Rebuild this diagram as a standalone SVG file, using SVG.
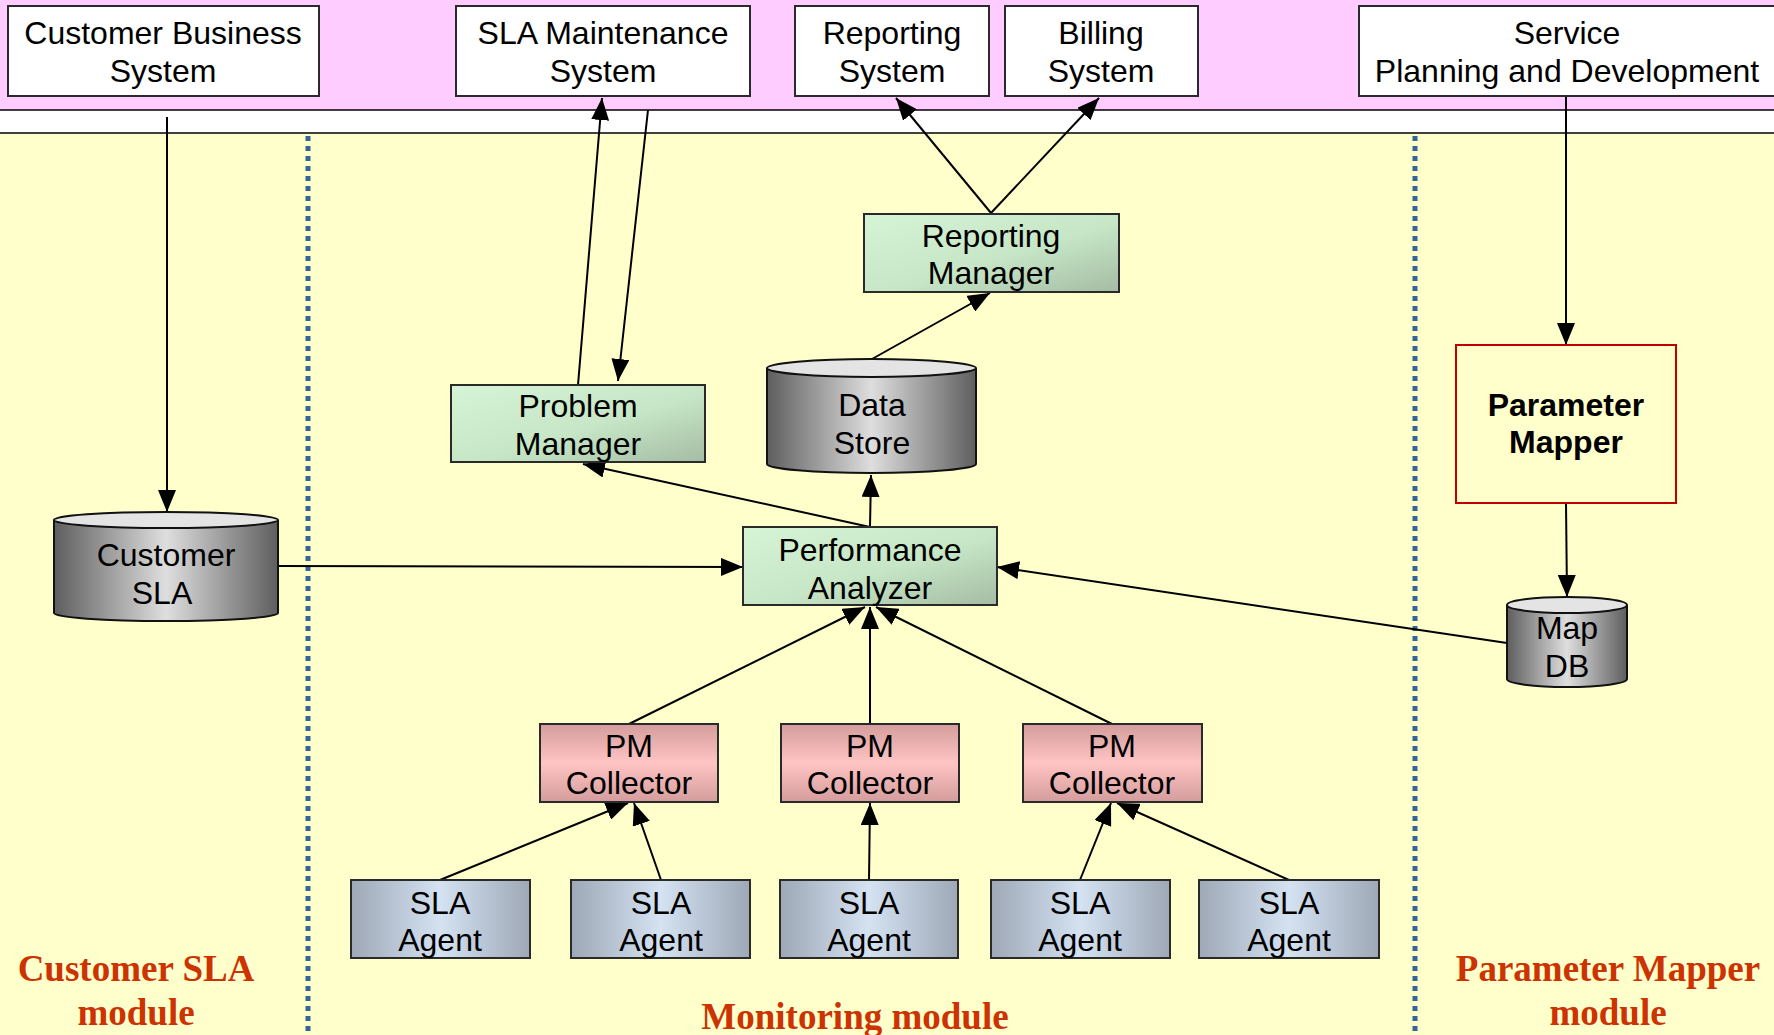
<svg xmlns="http://www.w3.org/2000/svg" width="1774" height="1035" viewBox="0 0 1774 1035">
  <defs>
    <linearGradient id="gGreen" x1="0" y1="0" x2="1" y2="1">
      <stop offset="0" stop-color="#d6f4d6"/>
      <stop offset="0.55" stop-color="#c6e6c6"/>
      <stop offset="1" stop-color="#a4bca4"/>
    </linearGradient>
    <linearGradient id="gPink" x1="0" y1="0" x2="0" y2="1">
      <stop offset="0" stop-color="#d49c9c"/>
      <stop offset="0.5" stop-color="#ffc4c4"/>
      <stop offset="1" stop-color="#d49c9c"/>
    </linearGradient>
    <linearGradient id="gBlue" x1="0" y1="0" x2="1" y2="0">
      <stop offset="0" stop-color="#9ea8b6"/>
      <stop offset="0.5" stop-color="#d4e2f2"/>
      <stop offset="1" stop-color="#9ea8b6"/>
    </linearGradient>
    <linearGradient id="gCyl" x1="0" y1="0" x2="1" y2="0">
      <stop offset="0" stop-color="#5e5e5e"/>
      <stop offset="0.5" stop-color="#dedede"/>
      <stop offset="1" stop-color="#5e5e5e"/>
    </linearGradient>
    <marker id="arrow" markerUnits="userSpaceOnUse" markerWidth="24" markerHeight="18" refX="22" refY="9" orient="auto">
      <path d="M0,0 L22,9 L0,18 z" fill="#000"/>
    </marker>
    <style>
      .box { stroke: #2a2a2a; stroke-width: 2; }
      .sys { fill: #ffffff; }
      .green { fill: url(#gGreen); }
      .pink { fill: url(#gPink); }
      .blue { fill: url(#gBlue); }
      .cyl { fill: url(#gCyl); stroke: #111; stroke-width: 2; }
      .cyltop { fill: #e4e4e4; stroke: #111; stroke-width: 2; }
      .t { font-family: "Liberation Sans", Arial, sans-serif; font-size: 32px; fill: #000; text-anchor: middle; }
      .tb { font-weight: bold; }
      .lbl { font-family: "Liberation Serif", "Times New Roman", serif; font-weight: bold; font-size: 37px; fill: #cc3300; text-anchor: middle; }
      .edge { stroke: #000; stroke-width: 2; fill: none; marker-end: url(#arrow); }
      .div { stroke: #336699; stroke-width: 5; stroke-dasharray: 5 5; }
    </style>
  </defs>

  <!-- background bands -->
  <rect x="0" y="0" width="1774" height="1035" fill="#ffffcc"/>
  <rect x="0" y="0" width="1774" height="110" fill="#ffccff"/>
  <rect x="0" y="110" width="1774" height="23" fill="#ffffff"/>
  <line x1="0" y1="110" x2="1774" y2="110" stroke="#000" stroke-width="1.5"/>
  <line x1="0" y1="133" x2="1774" y2="133" stroke="#000" stroke-width="1.5"/>

  <!-- module dividers -->
  <line class="div" x1="308" y1="136" x2="308" y2="1035"/>
  <line class="div" x1="1415" y1="136" x2="1415" y2="1035"/>

  <!-- module labels -->
  <g id="label-customer-sla">
    <text class="lbl" x="136" y="981">Customer SLA</text>
    <text class="lbl" x="136" y="1025">module</text>
  </g>
  <g id="label-monitoring">
    <text class="lbl" x="855" y="1029">Monitoring module</text>
  </g>
  <g id="label-parameter-mapper">
    <text class="lbl" x="1608" y="981">Parameter Mapper</text>
    <text class="lbl" x="1608" y="1025">module</text>
  </g>

  <!-- connectors -->
  <g id="connectors">
    <line class="edge" x1="167" y1="117" x2="167" y2="512"/>
    <line class="edge" x1="578" y1="385" x2="602" y2="98"/>
    <line class="edge" x1="648" y1="110" x2="618" y2="381"/>
    <line class="edge" x1="991" y1="213" x2="896" y2="98"/>
    <line class="edge" x1="991" y1="213" x2="1099" y2="98"/>
    <line class="edge" x1="872" y1="359" x2="990" y2="293"/>
    <line class="edge" x1="870" y1="527" x2="871" y2="475"/>
    <line class="edge" x1="870" y1="527" x2="583" y2="464"/>
    <line class="edge" x1="278" y1="566" x2="743" y2="567"/>
    <line class="edge" x1="1507" y1="643" x2="997" y2="567"/>
    <line class="edge" x1="1566" y1="97" x2="1566" y2="345"/>
    <line class="edge" x1="1566" y1="503" x2="1567" y2="597"/>
    <line class="edge" x1="629" y1="724" x2="865" y2="607"/>
    <line class="edge" x1="870" y1="724" x2="870" y2="607"/>
    <line class="edge" x1="1112" y1="724" x2="876" y2="607"/>
    <line class="edge" x1="440" y1="880" x2="628" y2="803"/>
    <line class="edge" x1="661" y1="880" x2="634" y2="803"/>
    <line class="edge" x1="869" y1="880" x2="870" y2="803"/>
    <line class="edge" x1="1080" y1="880" x2="1111" y2="803"/>
    <line class="edge" x1="1289" y1="880" x2="1117" y2="803"/>
  </g>

  <!-- external systems -->
  <g id="customer-business-system">
    <rect class="box sys" x="8" y="6" width="311" height="90"/>
    <text class="t" x="163" y="44">Customer Business</text>
    <text class="t" x="163" y="82">System</text>
  </g>
  <g id="sla-maintenance-system">
    <rect class="box sys" x="456" y="6" width="294" height="90"/>
    <text class="t" x="603" y="44">SLA Maintenance</text>
    <text class="t" x="603" y="82">System</text>
  </g>
  <g id="reporting-system">
    <rect class="box sys" x="795" y="6" width="194" height="90"/>
    <text class="t" x="892" y="44">Reporting</text>
    <text class="t" x="892" y="82">System</text>
  </g>
  <g id="billing-system">
    <rect class="box sys" x="1005" y="6" width="193" height="90"/>
    <text class="t" x="1101" y="44">Billing</text>
    <text class="t" x="1101" y="82">System</text>
  </g>
  <g id="service-planning">
    <rect class="box sys" x="1359" y="6" width="430" height="90"/>
    <text class="t" x="1567" y="44">Service</text>
    <text class="t" x="1567" y="82">Planning and Development</text>
  </g>

  <!-- monitoring module -->
  <g id="reporting-manager">
    <rect class="box green" x="864" y="214" width="255" height="78"/>
    <text class="t" x="991" y="247">Reporting</text>
    <text class="t" x="991" y="284">Manager</text>
  </g>
  <g id="problem-manager">
    <rect class="box green" x="451" y="385" width="254" height="77"/>
    <text class="t" x="578" y="417">Problem</text>
    <text class="t" x="578" y="455">Manager</text>
  </g>
  <g id="data-store">
    <path class="cyl" d="M767,368 V464 A104.5,9 0 0 0 976,464 V368"/>
    <ellipse class="cyltop" cx="871.5" cy="368" rx="104.5" ry="9"/>
    <text class="t" x="872" y="416">Data</text>
    <text class="t" x="872" y="454">Store</text>
  </g>
  <g id="performance-analyzer">
    <rect class="box green" x="743" y="527" width="254" height="78"/>
    <text class="t" x="870" y="561">Performance</text>
    <text class="t" x="870" y="599">Analyzer</text>
  </g>
  <g id="pm-collector-1">
    <rect class="box pink" x="540" y="724" width="178" height="78"/>
    <text class="t" x="629" y="757">PM</text>
    <text class="t" x="629" y="794">Collector</text>
  </g>
  <g id="pm-collector-2">
    <rect class="box pink" x="781" y="724" width="178" height="78"/>
    <text class="t" x="870" y="757">PM</text>
    <text class="t" x="870" y="794">Collector</text>
  </g>
  <g id="pm-collector-3">
    <rect class="box pink" x="1023" y="724" width="179" height="78"/>
    <text class="t" x="1112" y="757">PM</text>
    <text class="t" x="1112" y="794">Collector</text>
  </g>
  <g id="sla-agent-1">
    <rect class="box blue" x="351" y="880" width="179" height="78"/>
    <text class="t" x="440" y="914">SLA</text>
    <text class="t" x="440" y="951">Agent</text>
  </g>
  <g id="sla-agent-2">
    <rect class="box blue" x="571" y="880" width="179" height="78"/>
    <text class="t" x="661" y="914">SLA</text>
    <text class="t" x="661" y="951">Agent</text>
  </g>
  <g id="sla-agent-3">
    <rect class="box blue" x="780" y="880" width="178" height="78"/>
    <text class="t" x="869" y="914">SLA</text>
    <text class="t" x="869" y="951">Agent</text>
  </g>
  <g id="sla-agent-4">
    <rect class="box blue" x="991" y="880" width="179" height="78"/>
    <text class="t" x="1080" y="914">SLA</text>
    <text class="t" x="1080" y="951">Agent</text>
  </g>
  <g id="sla-agent-5">
    <rect class="box blue" x="1199" y="880" width="180" height="78"/>
    <text class="t" x="1289" y="914">SLA</text>
    <text class="t" x="1289" y="951">Agent</text>
  </g>

  <!-- customer SLA module -->
  <g id="customer-sla">
    <path class="cyl" d="M54,520 V613 A112,8 0 0 0 278,613 V520"/>
    <ellipse class="cyltop" cx="166" cy="520" rx="112" ry="8"/>
    <text class="t" x="166" y="566">Customer</text>
    <text class="t" x="162" y="604">SLA</text>
  </g>

  <!-- parameter mapper module -->
  <g id="parameter-mapper">
    <rect x="1456" y="345" width="220" height="158" fill="none" stroke="#c00000" stroke-width="2"/>
    <text class="t tb" x="1566" y="416">Parameter</text>
    <text class="t tb" x="1566" y="453">Mapper</text>
  </g>
  <g id="map-db">
    <path class="cyl" d="M1507,605 V679 A60,8 0 0 0 1627,679 V605"/>
    <ellipse class="cyltop" cx="1567" cy="605" rx="60" ry="8"/>
    <text class="t" x="1567" y="639">Map</text>
    <text class="t" x="1567" y="677">DB</text>
  </g>
</svg>
